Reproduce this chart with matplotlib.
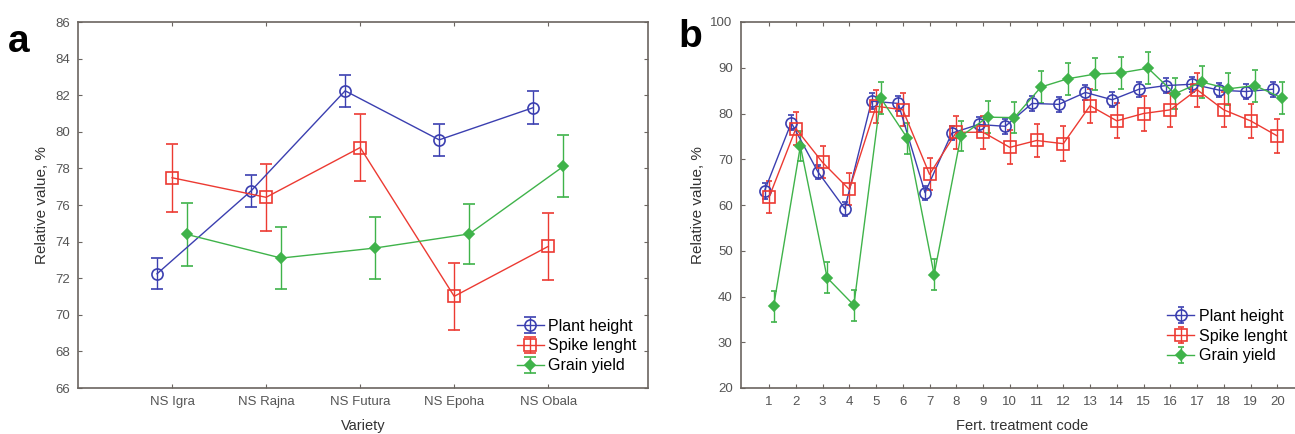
import matplotlib.pyplot as plt
import numpy as np

plt.rcParams["font.family"] = ["Liberation Sans", "DejaVu Sans"]

# ==========================
# data - panel a
# ==========================
varieties = ["NS Igra", "NS Rajna", "NS Futura", "NS Epoha", "NS Obala"]

a_plant = [72.24, 76.77, 82.24, 79.56, 81.32]
a_plant_err = [0.85, 0.87, 0.87, 0.86, 0.90]
a_spike = [77.49, 76.42, 79.14, 71.01, 73.74]
a_spike_err = [1.85, 1.84, 1.84, 1.84, 1.84]
a_grain = [74.39, 73.10, 73.65, 74.42, 78.11]
a_grain_err = [1.70, 1.68, 1.68, 1.65, 1.70]

# ==========================
# data - panel b
# ==========================
codes = list(range(1, 21))

b_plant = [63.1, 78.0, 67.2, 59.2, 82.7, 82.2, 62.7, 75.7, 77.6, 77.2,
           82.2, 82.0, 84.6, 83.0, 85.3, 86.1, 86.4, 85.1, 84.8, 85.3]
b_plant_err = [1.7, 1.6, 1.5, 1.5, 1.7, 1.6, 1.5, 1.6, 1.6, 1.6,
               1.6, 1.6, 1.6, 1.6, 1.6, 1.6, 1.6, 1.6, 1.6, 1.6]
b_spike = [61.7, 76.7, 69.3, 63.4, 81.6, 80.8, 66.7, 75.9, 75.9, 72.6,
           74.1, 73.4, 81.7, 78.4, 80.0, 80.8, 85.2, 80.8, 78.4, 75.1]
b_spike_err = [3.5, 3.6, 3.5, 3.5, 3.6, 3.6, 3.5, 3.6, 3.6, 3.7,
               3.7, 3.8, 3.7, 3.8, 3.8, 3.7, 3.7, 3.8, 3.7, 3.8]
b_grain = [37.9, 72.9, 44.1, 38.1, 83.4, 74.6, 44.8, 75.0, 79.2, 79.1,
           85.8, 87.6, 88.6, 88.9, 89.9, 84.3, 86.9, 85.4, 86.1, 83.4]
b_grain_err = [3.4, 3.3, 3.4, 3.4, 3.5, 3.4, 3.4, 3.3, 3.5, 3.4,
               3.5, 3.5, 3.5, 3.5, 3.5, 3.4, 3.5, 3.5, 3.5, 3.5]

labels = ["Plant height", "Spike lenght", "Grain yield"]

BLUE = "#3b3fb0"
RED = "#ec3a32"
GREEN = "#3fb34a"
SPINE = "#6b6560"
TICKC = "#555555"

fig = plt.figure(figsize=(12.95, 4.34), dpi=100)

ax1 = fig.add_axes([78 / 1295, 1 - 388 / 434, 570 / 1295, 366 / 434])
ax2 = fig.add_axes([741 / 1295, 1 - 388 / 434, 563 / 1295, 366 / 434])


def style_series(ax, x, y, err, color, marker, ms, mfc, label, capsize):
    ax.errorbar(
        x, y, yerr=err,
        color=color, lw=1.0,
        marker=marker, markersize=ms,
        markerfacecolor=mfc, markeredgecolor=color, markeredgewidth=1.2,
        ecolor=color, elinewidth=1.0, capsize=capsize, capthick=1.0,
        label=label,
    )


def style_axes(ax):
    for s in ax.spines.values():
        s.set_color(SPINE)
        s.set_linewidth(1.2)
    ax.tick_params(
        direction="in", length=3, width=0.8, color=SPINE,
        top=True, right=True, labelsize=9.5, labelcolor=TICKC, pad=6
    )


# ==========================
# panel a
# ==========================
xa = np.arange(1, 6)
off = 0.16

style_series(ax1, xa - off, a_plant, a_plant_err, BLUE, "o", 8, "none", labels[0], 4)
style_series(ax1, xa, a_spike, a_spike_err, RED, "s", 8, "none", labels[1], 4)
style_series(ax1, xa + off, a_grain, a_grain_err, GREEN, "D", 5, GREEN, labels[2], 4)

ax1.set_xlim(0, 6.06)
ax1.set_ylim(66, 86)
ax1.set_yticks(range(66, 87, 2))
ax1.set_xticks(xa)
ax1.set_xticklabels(varieties)
ax1.set_xlabel("Variety", fontsize=10.5, color="#333333", labelpad=8)
ax1.set_ylabel("Relative value, %", fontsize=11, color="#333333")
style_axes(ax1)

ax1.legend(
    loc="lower right", bbox_to_anchor=(1.0, 0.01),
    frameon=False, fontsize=11.5, handlelength=1.7,
    handletextpad=0.3, labelspacing=0.3, borderaxespad=0.3
)

# ==========================
# panel b
# ==========================
xb = np.array(codes)
offb = 0.17

style_series(ax2, xb - offb, b_plant, b_plant_err, BLUE, "o", 8, "none", labels[0], 2)
style_series(ax2, xb, b_spike, b_spike_err, RED, "s", 8, "none", labels[1], 2)
style_series(ax2, xb + offb, b_grain, b_grain_err, GREEN, "D", 5, GREEN, labels[2], 2)

ax2.set_xlim(-0.05, 21)
ax2.set_ylim(20, 100)
ax2.set_yticks(range(20, 101, 10))
ax2.set_xticks(xb)
ax2.set_xlabel("Fert. treatment code", fontsize=10.5, color="#333333", labelpad=8)
ax2.set_ylabel("Relative value, %", fontsize=11, color="#333333")
style_axes(ax2)

ax2.legend(
    loc="lower right", bbox_to_anchor=(0.982, 0.05),
    frameon=False, fontsize=11.5, handlelength=1.7,
    handletextpad=0.3, labelspacing=0.3, borderaxespad=0.0
)

# ==========================
# panel letters
# ==========================
fig.text(8 / 1295, 1 - 42 / 434, "a", fontsize=28, fontweight="bold", va="center")
fig.text(678 / 1295, 1 - 37 / 434, "b", fontsize=28, fontweight="bold", va="center")

fig.savefig("out.png", dpi=100)
